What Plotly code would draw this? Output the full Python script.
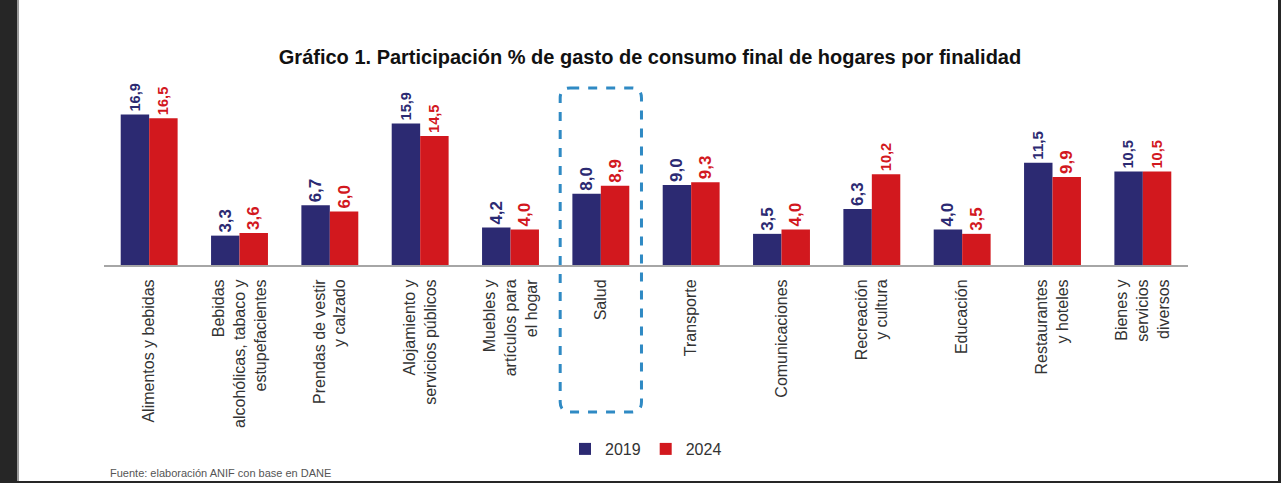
import plotly.graph_objects as go

categories = [
    "Alimentos y bebidas",
    "Bebidas<br>alcohólicas, tabaco y<br>estupefacientes",
    "Prendas de vestir<br>y calzado",
    "Alojamiento y<br>servicios públicos",
    "Muebles y<br>artículos para<br>el hogar",
    "Salud",
    "Transporte",
    "Comunicaciones",
    "Recreación<br>y cultura",
    "Educación",
    "Restaurantes<br>y hoteles",
    "Bienes y<br>servicios<br>diversos",
]
values_2019 = [16.9, 3.3, 6.7, 15.9, 4.2, 8.0, 9.0, 3.5, 6.3, 4.0, 11.5, 10.5]
values_2024 = [16.5, 3.6, 6.0, 14.5, 4.0, 8.9, 9.3, 4.0, 10.2, 3.5, 9.9, 10.5]
series_names = ["2019", "2024"]
highlight = "Salud"

W, H = 1281, 483
ML, MR, MT, MB = 104, 93, 87, 218
PW = W - ML - MR
PH = H - MT - MB

C2019 = "#2C2A72"
C2024 = "#D2181E"

fig = go.Figure()
for name, vals, col in [(series_names[0], values_2019, C2019), (series_names[1], values_2024, C2024)]:
    fig.add_trace(go.Bar(
        name=name, x=categories, y=vals, marker=dict(color=col, line=dict(width=0)),
        texttemplate="%{y:.1f}", textposition="outside", textangle=-90,
        textfont=dict(family="Liberation Sans, Arial, sans-serif", size=17, color=col, weight="bold"),
        cliponaxis=False,
    ))

def px_x(p):
    return (p - ML) / PW

def px_y(p):
    return (H - MB - p) / PH

n = len(categories)
idx = categories.index(highlight)
cx = (idx + 0.5) / n
hw = 0.45 / n
x0, x1 = cx - hw, cx + hw
y0, y1 = px_y(88), px_y(412)
rx, ry = 10 / PW, 10 / PH
path = (f"M{x0+rx},{y0} L{x1-rx},{y0} Q{x1},{y0} {x1},{y0-ry} "
        f"L{x1},{y1+ry} Q{x1},{y1} {x1-rx},{y1} L{x0+rx},{y1} Q{x0},{y1} {x0},{y1+ry} "
        f"L{x0},{y0-ry} Q{x0},{y0} {x0+rx},{y0} Z")

shapes = [
    dict(type="rect", xref="paper", yref="paper", x0=px_x(19), x1=px_x(1278), y0=px_y(481), y1=px_y(0),
         fillcolor="white", line=dict(width=0), layer="below"),
    dict(type="rect", xref="paper", yref="paper", x0=px_x(17), x1=px_x(19), y0=px_y(481), y1=px_y(0),
         fillcolor="#9a9a9a", line=dict(width=0), layer="below"),
    dict(type="path", xref="paper", yref="paper", path=path,
         line=dict(color="#2F8AC4", width=3, dash="dash"), fillcolor="rgba(0,0,0,0)", layer="above"),
]

fig.update_layout(
    width=W, height=H,
    margin=dict(l=ML, r=MR, t=MT, b=MB, pad=0),
    paper_bgcolor="#262626", plot_bgcolor="white",
    separators=",.",
    barmode="group", bargap=0.37, bargroupgap=0,
    font=dict(family="Liberation Sans, Arial, sans-serif", color="#333333"),
    title=dict(
        text="<b>Gráfico 1. Participación % de gasto de consumo final de hogares por finalidad</b>",
        x=650 / W, xanchor="center", xref="container",
        y=1 - 57 / H, yanchor="middle", yref="container",
        font=dict(family="Liberation Sans, Arial, sans-serif", size=20, color="#111111"),
    ),
    xaxis=dict(
        type="category", range=[-0.5, n - 0.5],
        showline=True, linecolor="#a6a6a6", linewidth=2,
        showgrid=False, ticks="", tickangle=-90,
        tickfont=dict(size=16, color="#333333"),
        ticklabelstandoff=6,
    ),
    yaxis=dict(range=[0, 20], visible=False, showgrid=False, zeroline=False),
    legend=dict(
        orientation="h", x=0.5, xanchor="center", y=px_y(449), yanchor="middle",
        font=dict(size=16, color="#333333"), traceorder="normal",
        itemwidth=30, bgcolor="rgba(0,0,0,0)",
    ),
    shapes=shapes,
    annotations=[
        dict(text="Fuente: elaboración ANIF con base en DANE", xref="paper", yref="paper",
             x=px_x(108), y=px_y(481), xanchor="left", yanchor="bottom", showarrow=False,
             font=dict(size=11, color="#555555")),
        dict(text=" ", xref="paper", yref="paper", x=px_x(0), y=px_y(0), xanchor="left", yanchor="top",
             width=15, height=H - 4, bgcolor="#262626", borderpad=0, borderwidth=0, showarrow=False),
    ],
)

fig.write_html("out.html", config={"displayModeBar": False},
               post_script="document.body.style.margin='0px';document.documentElement.style.background='#262626';")
